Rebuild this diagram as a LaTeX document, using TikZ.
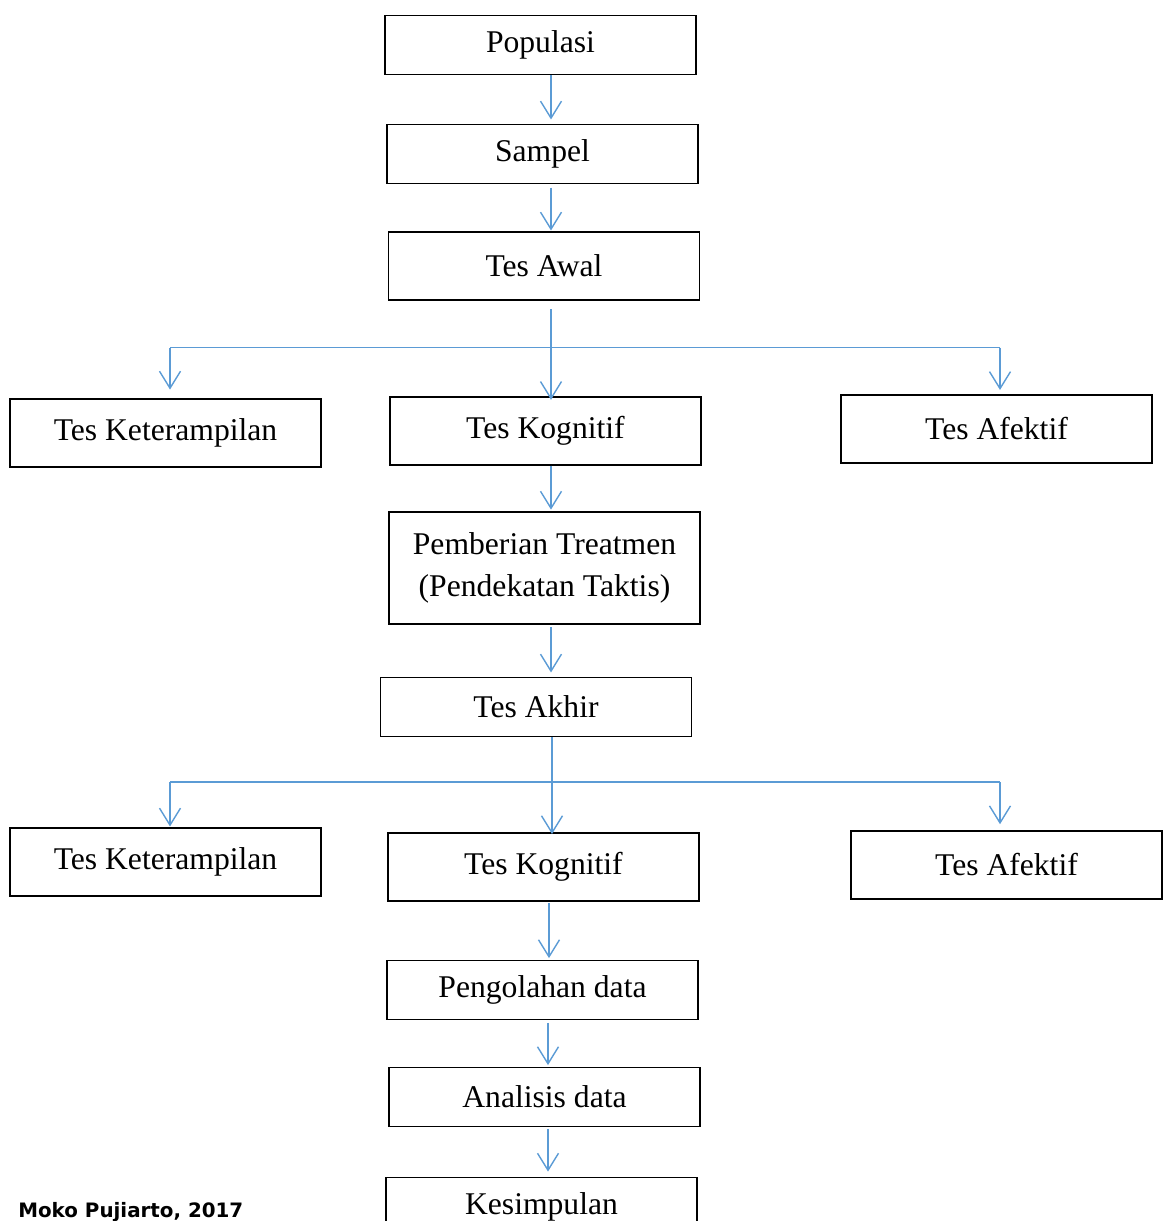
\documentclass[tikz,border=0pt]{standalone}
\usepackage{fontspec}
\setmainfont{Liberation Serif}
\newfontfamily\creditfont{DejaVu Sans}
\usetikzlibrary{arrows.meta}
\definecolor{arrowblue}{RGB}{91,155,213}
\tikzset{
  box/.style={draw, line width=0.75pt, minimum width=6.22cm, minimum height=1.18cm,
    inner sep=0pt, align=center, font=\fontsize{18}{23.8}\selectfont},
  tallbox/.style={box, minimum height=1.36cm},
  arr/.style={arrowblue, line width=0.8pt, -{Straight Barb[length=0.34cm,width=0.42cm]}},
  link/.style={arrowblue, line width=0.8pt},
}
\begin{document}
\begin{tikzpicture}[x=0.02cm,y=-0.02cm]
        \useasboundingbox (0,0) rectangle (1163,1221);

        % Kolom tengah
        \node[box] (populasi) at (540.5,45) {Populasi};
        \node[box] (sampel) at (542.5,154) {Sampel};
        \node[tallbox] (awal) at (544,266) {Tes Awal};
        \node[tallbox] (kog1) at (545.5,431) {Tes Kognitif};
        \node[box, minimum height=2.24cm] (treatmen) at (544.5,568) {Pemberian Treatmen\\(Pendekatan Taktis)};
        \node[box] (akhir) at (536,707) {Tes Akhir};
        \node[tallbox] (kog2) at (543.5,867) {Tes Kognitif};
        \node[box] (olah) at (542.5,990) {Pengolahan data};
        \node[box] (analisis) at (544.5,1097) {Analisis data};
        \node[box] (simpul) at (541.5,1207) {Kesimpulan};

        % Kolom kiri dan kanan
        \node[tallbox] (ket1) at (165.5,433) {Tes Keterampilan};
        \node[tallbox] (afe1) at (996.5,429) {Tes Afektif};
        \node[tallbox] (ket2) at (165.5,862) {Tes Keterampilan};
        \node[tallbox] (afe2) at (1006.5,865) {Tes Afektif};

        % Sumber
        \node[anchor=base west, inner sep=0pt, font=\creditfont\bfseries\fontsize{11.3}{13}\selectfont]
          (sumber) at (18,1217) {Moko Pujiarto, 2017};

        % Titik bantu untuk garis cabang
        \coordinate (spine) at (551,0);
        \coordinate (cabang1) at (0,347.5);
        \coordinate (cabang2) at (0,782);
        \coordinate (kiri) at (170,0);
        \coordinate (kanan) at (1000,0);

        % Panah kolom tengah
        \draw[arr] (populasi.south -| spine) -- ([yshift=2.5pt]sampel.north -| spine);
        \draw[arr] ([yshift=-2pt]sampel.south -| spine) -- ([yshift=0.5pt]awal.north -| spine);
        \draw[arr] ([yshift=-5pt]awal.south -| spine) -- ([yshift=-2pt]kog1.north -| spine);
        \draw[arr] (kog1.south -| spine) -- ([yshift=1pt]treatmen.north -| spine);
        \draw[arr] ([yshift=-1.5pt]treatmen.south -| spine) -- ([yshift=2.5pt]akhir.north -| spine);
        \draw[arr] (akhir.south -| 552,0) -- ([yshift=-1pt]kog2.north -| 552,0);
        \draw[arr] ([yshift=-1pt]kog2.south -| 549,0) -- ([yshift=1pt]olah.north -| 549,0);
        \draw[arr] ([yshift=-1.5pt]olah.south -| 548,0) -- ([yshift=1pt]analisis.north -| 548,0);
        \draw[arr] ([yshift=-1pt]analisis.south -| 548,0) -- ([yshift=3pt]simpul.north -| 548,0);

        % Cabang setelah tes awal
        \draw[link] (kiri |- cabang1) -- (kanan |- cabang1);
        \draw[arr] (kiri |- cabang1) -- ([yshift=5pt]ket1.north -| kiri);
        \draw[arr] (kanan |- cabang1) -- ([yshift=2.5pt]afe1.north -| kanan);

        % Cabang setelah tes akhir
        \draw[link] (kiri |- cabang2) -- (kanan |- cabang2);
        \draw[arr] (kiri |- cabang2) -- ([yshift=0.5pt]ket2.north -| kiri);
        \draw[arr] (kanan |- cabang2) -- ([yshift=3.5pt]afe2.north -| kanan);

\end{tikzpicture}
\end{document}
